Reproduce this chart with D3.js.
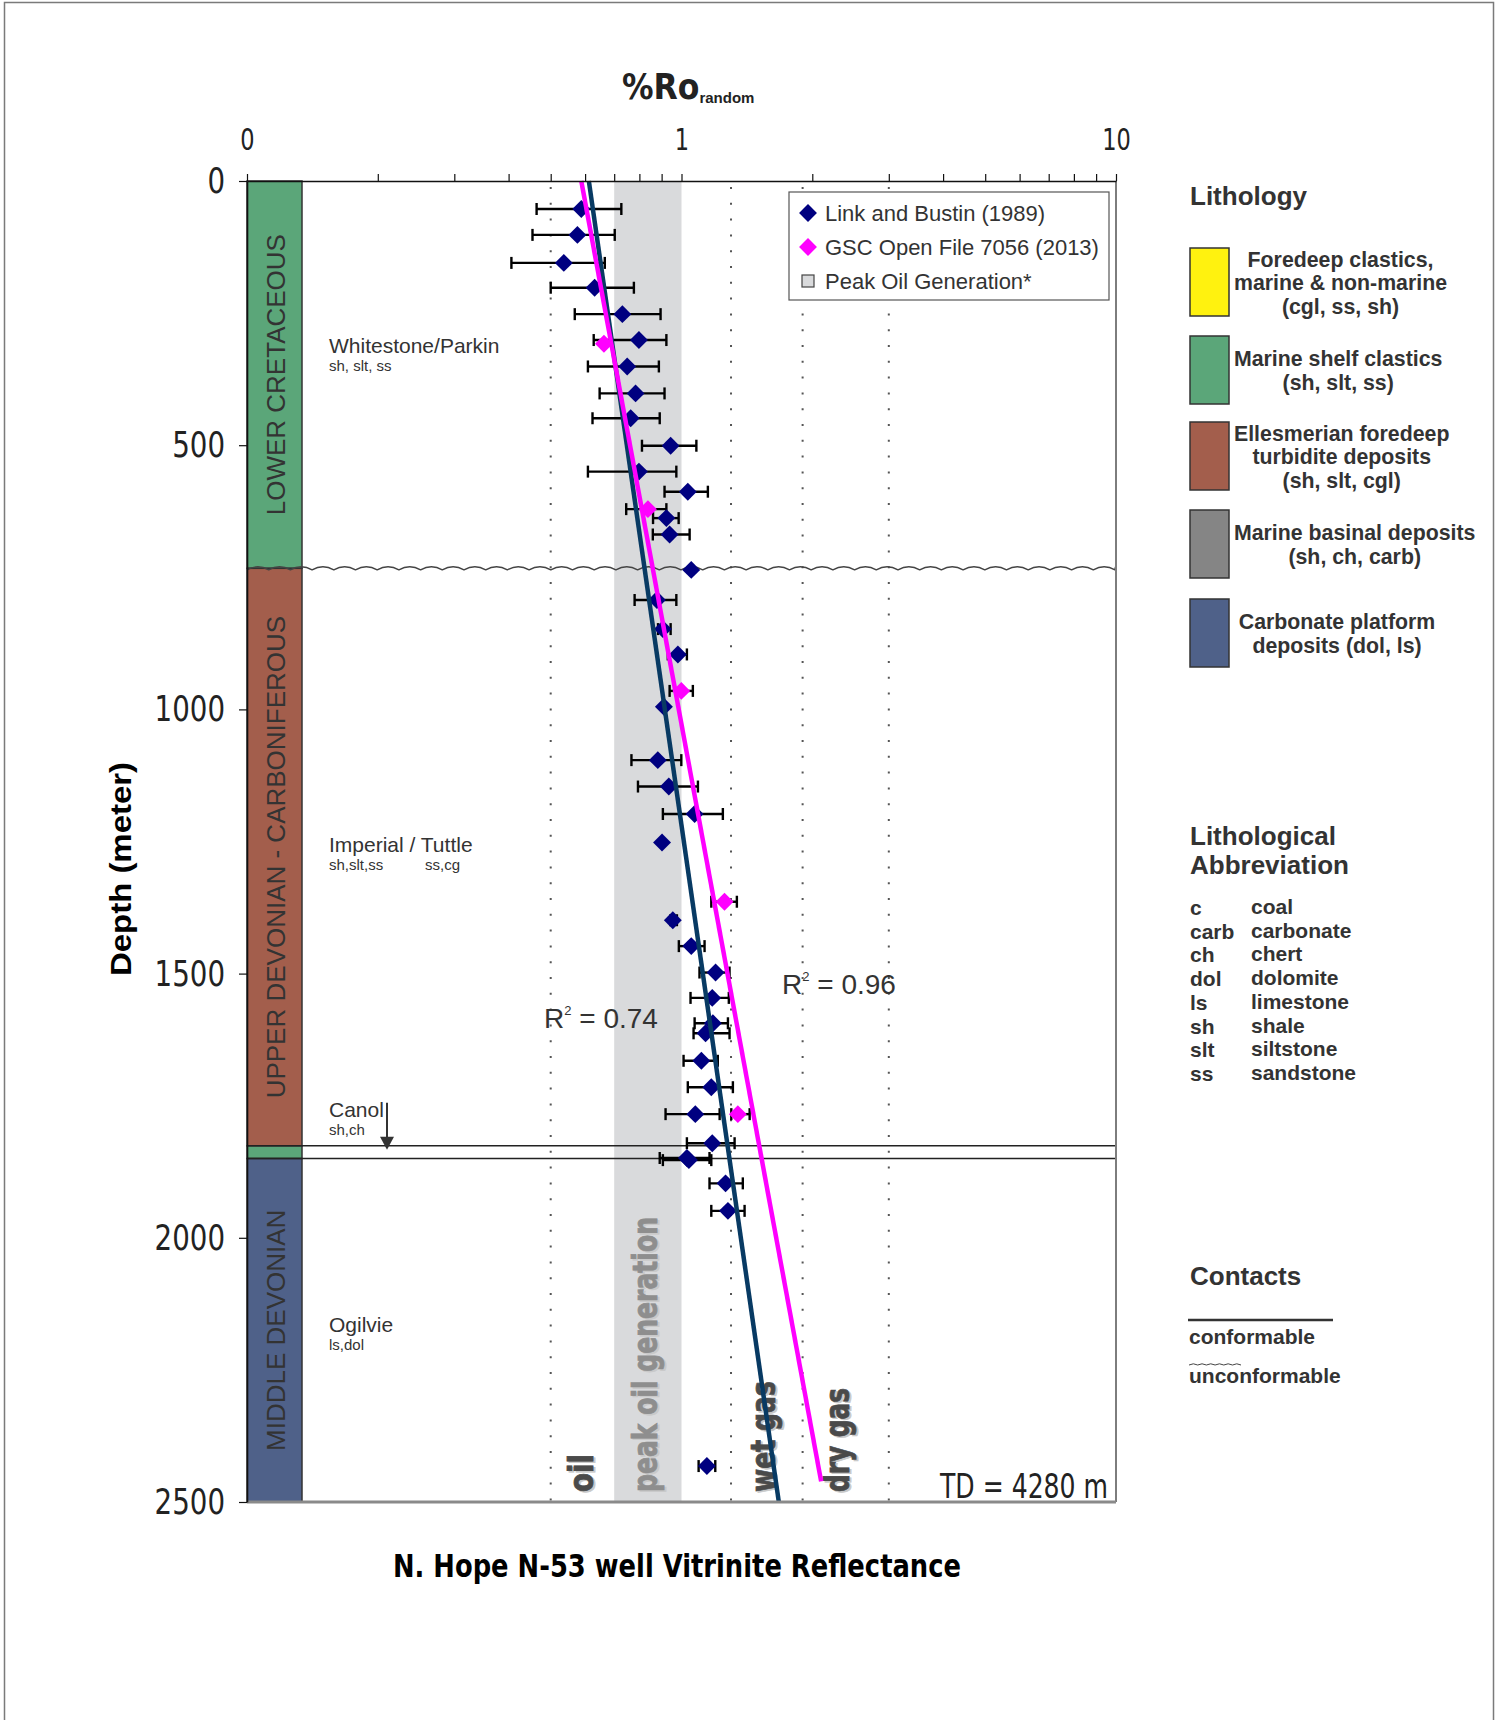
<!DOCTYPE html>
<html>
<head>
<meta charset="utf-8">
<script src="https://cdn.jsdelivr.net/npm/d3@7"></script>
<style>
  body { margin: 0; background: #fff; }
  svg { display: block; }
  text { font-family: "Liberation Sans", Arial, Helvetica, sans-serif; }
  .narrow { font-family: "Liberation Sans Narrow", "Arial Narrow", "DejaVu Sans Condensed", sans-serif; font-stretch: condensed; }
</style>
</head>
<body>
<svg id="chart" width="1501" height="1720"></svg>
<script>
// ---------------- data ----------------
const xTickValues = [0.1, 1, 10];
const xTickLabels = ["0", "1", "10"];
const yTickValues = [0, 500, 1000, 1500, 2000, 2500];

// Link and Bustin (1989): depth (m), mean %Ro, min and max of the range
const linkDepth = [53, 102, 155, 202, 252, 301, 351, 402, 449, 501, 550, 588, 638, 669, 736, 793, 848, 896, 995,
                   1096, 1146, 1198, 1252, 1399, 1448, 1498, 1546, 1594, 1613, 1665, 1715, 1766, 1821, 1849, 1853,
                   1897, 1949, 2432];
const linkRo = [0.588, 0.576, 0.536, 0.631, 0.731, 0.798, 0.750, 0.784, 0.764, 0.944, 0.798, 1.034, 0.923, 0.939, 1.053,
                0.878, 0.906, 0.981, 0.911, 0.882, 0.935, 1.072, 0.902, 0.955, 1.053, 1.198, 1.177, 1.181, 1.136,
                1.111, 1.171, 1.076, 1.177, 1.029, 1.040, 1.263, 1.279, 1.144];
const linkLo = [0.464, 0.454, 0.406, 0.500, 0.568, 0.628, 0.609, 0.648, 0.624, 0.811, 0.609, 0.914, 0.860, 0.859, null,
                0.780, 0.883, 0.930, null, 0.767, 0.794, 0.906, null, 0.943, 0.986, 1.100, 1.049, 1.072, 1.066,
                1.011, 1.034, 0.919, 1.029, 0.891, 0.906, 1.160, 1.171, 1.095];
const linkHi = [0.727, 0.702, 0.666, 0.777, 0.895, 0.923, 0.887, 0.914, 0.891, 1.082, 0.973, 1.150, 0.985, 1.044, null,
                0.973, 0.944, 1.029, null, 0.999, 1.091, 1.245, null, 0.976, 1.130, 1.290, 1.285, 1.279, 1.290,
                1.212, 1.313, 1.224, 1.325, 1.160, 1.171, 1.384, 1.397, 1.196];

// GSC Open File 7056 (2013)
const gscDepth = [308, 621, 965, 1364, 1766];
const gscRo = [0.663, 0.837, 0.999, 1.256, 1.348];
const gscLo = [null, 0.746, 0.939, 1.171, 1.302];
const gscHi = [null, 0.923, 1.062, 1.341, 1.435];

// regression trend lines (end points)
const linkTrendDepth = [0, 2500];
const linkTrendRo = [0.612, 1.675];
const gscTrendDepth = [0, 2461];
const gscTrendRo = [0.588, 2.096];
const r2Values = ["0.74", "0.96"];

// maturity
const peakOil = [0.7, 1.0];
const maturityLimits = [0.5, 1.3, 1.9, 3.0];
const maturityZones = ["oil", "peak oil generation", "wet gas", "dry gas"];

// stratigraphic column
const unitNames = ["LOWER CRETACEOUS", "UPPER DEVONIAN - CARBONIFEROUS", "", "MIDDLE DEVONIAN"];
const unitTop = [0, 733, 1826, 1850];
const unitBase = [733, 1826, 1850, 2500];
const unitLith = [1, 2, 1, 4];   // index into lithology legend
const unconformityDepth = [733];
const conformableDepth = [1826, 1850];

const formations = ["Whitestone/Parkin", "Imperial / Tuttle", "Canol", "Ogilvie"];
const formationLith = ["sh, slt, ss", "sh,slt,ss", "sh,ch", "ls,dol"];
const formationLith2 = ["", "ss,cg", "", ""];
const formationDepth = [325, 1269, 1771, 2178];
const totalDepthLabel = "TD = 4280 m";

// legends
const seriesNames = ["Link and Bustin (1989)", "GSC Open File 7056 (2013)", "Peak Oil Generation*"];
const lithColors = ["#fff20f", "#5ba679", "#a35e4c", "#858585", "#4f6189"];
const lithLabels = [
  ["Foredeep clastics,", "marine & non-marine", "(cgl, ss, sh)"],
  ["Marine shelf clastics", "(sh, slt, ss)"],
  ["Ellesmerian foredeep", "turbidite deposits", "(sh, slt, cgl)"],
  ["Marine basinal deposits", "(sh, ch, carb)"],
  ["Carbonate platform", "deposits (dol, ls)"]
];
const abbrCodes = ["c", "carb", "ch", "dol", "ls", "sh", "slt", "ss"];
const abbrNames = ["coal", "carbonate", "chert", "dolomite", "limestone", "shale", "siltstone", "sandstone"];
const contactNames = ["conformable", "unconformable"];

// ---------------- layout ----------------
const L = 247, R = 1116, T = 181, B = 1502;
const colL = 247, colR = 302;
const navy = "#000080", magenta = "#ff00ff", trendBlue = "#083a63", textGrey = "#333";

const svg = d3.select("#chart");
const x = d3.scaleLog().domain([0.1, 10]).range([L, R]);
const y = d3.scaleLinear().domain([0, 2500]).range([T, B]);

// outer frame
svg.append("rect").attr("x", 4.5).attr("y", 2.5).attr("width", 1489).attr("height", 1760)
  .attr("fill", "none").attr("stroke", "#7a7a7a").attr("stroke-width", 1.5);

// peak oil band
svg.append("rect")
  .attr("x", x(peakOil[0])).attr("y", T)
  .attr("width", x(peakOil[1]) - x(peakOil[0])).attr("height", B - T)
  .attr("fill", "#d9dadc");

// maturity limits (dotted)
svg.append("g").selectAll("line").data(maturityLimits).join("line")
  .attr("x1", d => x(d)).attr("x2", d => x(d)).attr("y1", T + 6).attr("y2", B)
  .attr("stroke", "#555").attr("stroke-width", 2).attr("stroke-dasharray", "2 13.8");

// maturity zone labels (rotated, embossed)
const zoneLayout = [
  { bx: 593, len: 38, fill: "#4a4a4a" },
  { bx: 657, len: 275, fill: "#8e8e8e" },
  { bx: 775, len: 111, fill: "#4a4a4a" },
  { bx: 849, len: 104, fill: "#4a4a4a" }
];
const zoneG = svg.append("g");
maturityZones.forEach((name, i) => {
  const z = zoneLayout[i];
  [["#c9c9c9", 2, 1.5], [z.fill, 0, 0]].forEach(([fill, dx, dy]) => {
    zoneG.append("text")
      .attr("class", "narrow")
      .attr("transform", `translate(${z.bx + dx},${1492 + dy}) rotate(-90)`)
      .attr("font-size", 34).attr("font-weight", "bold")
      .attr("textLength", z.len).attr("lengthAdjust", "spacingAndGlyphs")
      .attr("fill", fill).attr("stroke", fill).attr("stroke-width", 0.8).text(name);
  });
});

// stratigraphic column
const colG = svg.append("g");
unitTop.forEach((top, i) => {
  colG.append("rect")
    .attr("x", colL).attr("y", y(top)).attr("width", colR - colL).attr("height", y(unitBase[i]) - y(top))
    .attr("fill", lithColors[unitLith[i]]).attr("stroke", "#333").attr("stroke-width", 1.5);
});
unitNames.forEach((name, i) => {
  if (!name) return;
  const cy = (y(unitTop[i]) + y(unitBase[i])) / 2;
  colG.append("text")
    .attr("transform", `translate(${(colL + colR) / 2 + 10},${cy}) rotate(-90)`)
    .attr("text-anchor", "middle").attr("font-size", 26).attr("fill", textGrey)
    .text(name);
});

// contacts
function wavyPath(x0, x1, yy, period, amp) {
  let p = `M${x0},${yy}`;
  for (let xx = x0; xx < x1 - 0.01; xx += period) {
    const xe = Math.min(xx + period, x1);
    p += ` Q${(xx + xe) / 2},${yy - amp * 2} ${xe},${yy}`;
  }
  return p;
}
unconformityDepth.forEach(d => {
  svg.append("path").attr("d", wavyPath(L, R, y(d) + 1.5, 21.7, 3))
    .attr("fill", "none").attr("stroke", "#444").attr("stroke-width", 1.4);
});
svg.append("g").selectAll("line").data(conformableDepth).join("line")
  .attr("x1", L).attr("x2", R).attr("y1", d => y(d)).attr("y2", d => y(d))
  .attr("stroke", "#222").attr("stroke-width", 1.5);

// formation names
const fmG = svg.append("g").attr("fill", textGrey);
formations.forEach((f, i) => {
  const yy = y(formationDepth[i]);
  fmG.append("text").attr("x", 329).attr("y", yy).attr("font-size", 21).text(f);
  fmG.append("text").attr("x", 329).attr("y", yy + 18).attr("font-size", 15).text(formationLith[i]);
  if (formationLith2[i]) fmG.append("text").attr("x", 425).attr("y", yy + 18).attr("font-size", 15).text(formationLith2[i]);
});
// Canol pointer
const canolY = y(formationDepth[2]);
svg.append("line").attr("x1", 387).attr("x2", 387).attr("y1", canolY - 14).attr("y2", canolY + 22)
  .attr("stroke", "#333").attr("stroke-width", 2);
svg.append("path").attr("d", `M380,${canolY + 20} L394,${canolY + 20} L387,${canolY + 33} Z`).attr("fill", "#333");

// error bars
function errorBars(depth, lo, hi) {
  const g = svg.append("g").attr("stroke", "#000").attr("stroke-width", 2.4);
  depth.forEach((d, i) => {
    if (lo[i] == null) return;
    const yy = y(d);
    g.append("line").attr("x1", x(lo[i])).attr("x2", x(hi[i])).attr("y1", yy).attr("y2", yy);
    [lo[i], hi[i]].forEach(v => g.append("line").attr("x1", x(v)).attr("x2", x(v)).attr("y1", yy - 6).attr("y2", yy + 6));
  });
}
errorBars(linkDepth, linkLo, linkHi);
errorBars(gscDepth, gscLo, gscHi);

// markers
const diamond = d3.symbol().type(d3.symbolSquare).size(160);
function markers(depth, ro, color) {
  svg.append("g").selectAll("path").data(depth).join("path")
    .attr("d", diamond)
    .attr("transform", (d, i) => `translate(${x(ro[i])},${y(d)}) rotate(45)`)
    .attr("fill", color);
}
markers(linkDepth, linkRo, navy);
markers(gscDepth, gscRo, magenta);

// trend lines
const trend = d3.line().x(d => x(d[1])).y(d => y(d[0]));
svg.append("path").attr("d", trend(linkTrendDepth.map((d, i) => [d, linkTrendRo[i]])))
  .attr("fill", "none").attr("stroke", trendBlue).attr("stroke-width", 4.5);
svg.append("path").attr("d", trend(gscTrendDepth.map((d, i) => [d, gscTrendRo[i]])))
  .attr("fill", "none").attr("stroke", magenta).attr("stroke-width", 4.5);

// R² labels
[[544, 1028, r2Values[0]], [782, 994, r2Values[1]]].forEach(([tx, ty, v]) => {
  const t = svg.append("text").attr("x", tx).attr("y", ty).attr("font-size", 28).attr("fill", textGrey);
  t.append("tspan").text("R");
  t.append("tspan").attr("font-size", 13).attr("dy", -13).text("2");
  t.append("tspan").attr("dy", 13).text(" = " + v);
});

// total depth
svg.append("text").attr("class", "narrow").attr("x", 1108).attr("y", 1498)
  .attr("text-anchor", "end").attr("font-size", 33).attr("fill", "#222")
  .attr("textLength", 168).attr("lengthAdjust", "spacingAndGlyphs").text(totalDepthLabel);

// frame: right and bottom
svg.append("line").attr("x1", R).attr("x2", R).attr("y1", T).attr("y2", B).attr("stroke", "#7d7d7d").attr("stroke-width", 2);
svg.append("line").attr("x1", L).attr("x2", R).attr("y1", B).attr("y2", B).attr("stroke", "#8a8a8a").attr("stroke-width", 3);

// axes
const minorTicks = [];
[0.1, 1].forEach(dec => { for (let k = 1; k < 10; k++) minorTicks.push(+(k * dec).toFixed(3)); });
minorTicks.push(10);
const topAxis = svg.append("g").attr("transform", `translate(0,${T})`)
  .call(d3.axisTop(x).tickValues(minorTicks).tickSize(7).tickSizeOuter(0).tickPadding(24)
    .tickFormat(v => { const i = xTickValues.findIndex(t => Math.abs(t - v) < 1e-9); return i >= 0 ? xTickLabels[i] : ""; }));
topAxis.select(".domain").attr("stroke", "#111").attr("stroke-width", 1.6);
topAxis.selectAll(".tick line").attr("stroke", "#111").attr("stroke-width", 1.2);
topAxis.selectAll("text").attr("class", "narrow").attr("font-size", 30).attr("fill", "#222")
  .each(function () { const n = this.textContent.length; if (n) d3.select(this).attr("textLength", 14.3 * n).attr("lengthAdjust", "spacingAndGlyphs"); });

const leftAxis = svg.append("g").attr("transform", `translate(${L},0)`)
  .call(d3.axisLeft(y).tickValues(yTickValues).tickFormat(d3.format("d")).tickSize(8).tickSizeOuter(0).tickPadding(14));
leftAxis.select(".domain").attr("stroke", "#111").attr("stroke-width", 1.6);
leftAxis.selectAll(".tick line").attr("stroke", "#111").attr("stroke-width", 1.2);
leftAxis.selectAll("text").attr("class", "narrow").attr("font-size", 36).attr("fill", "#222")
  .each(function () { const n = this.textContent.length; d3.select(this).attr("textLength", 17.6 * n).attr("lengthAdjust", "spacingAndGlyphs"); });

// axis titles
const xt = svg.append("text").attr("x", 622).attr("y", 99).attr("font-weight", "bold").attr("fill", "#222");
xt.append("tspan").attr("class", "narrow").attr("font-size", 35).text("%Ro");
xt.append("tspan").attr("font-size", 15).attr("dy", 4).text("random");

svg.append("text").attr("transform", "translate(131,869) rotate(-90)")
  .attr("text-anchor", "middle").attr("font-size", 30).attr("font-weight", "bold").attr("fill", "#000")
  .attr("textLength", 214).attr("lengthAdjust", "spacingAndGlyphs").text("Depth (meter)");

svg.append("text").attr("class", "narrow").attr("x", 677).attr("y", 1577)
  .attr("text-anchor", "middle").attr("font-size", 32).attr("font-weight", "bold").attr("fill", "#000")
  .attr("textLength", 568).attr("lengthAdjust", "spacingAndGlyphs")
  .text("N. Hope N-53 well Vitrinite Reflectance");

// series legend
const lg = svg.append("g");
lg.append("rect").attr("x", 789).attr("y", 192).attr("width", 320).attr("height", 108)
  .attr("fill", "#fff").attr("stroke", "#555").attr("stroke-width", 1.2);
[213, 247, 281].forEach((cy, i) => {
  if (i < 2) {
    lg.append("path").attr("d", diamond).attr("transform", `translate(808,${cy}) rotate(45)`)
      .attr("fill", i === 0 ? navy : magenta);
  } else {
    lg.append("rect").attr("x", 802).attr("y", cy - 6).attr("width", 12).attr("height", 12)
      .attr("fill", "#d9dadc").attr("stroke", "#444").attr("stroke-width", 1.2);
  }
  lg.append("text").attr("x", 825).attr("y", cy + 8).attr("font-size", 22).attr("fill", textGrey).text(seriesNames[i]);
});

// lithology legend
const rg = svg.append("g").attr("fill", textGrey);
rg.append("text").attr("x", 1190).attr("y", 205).attr("font-size", 26).attr("font-weight", "bold").text("Lithology");
const boxTops = [248, 336, 422, 510, 599];
lithLabels.forEach((lines, i) => {
  const top = boxTops[i];
  rg.append("rect").attr("x", 1190).attr("y", top).attr("width", 39).attr("height", 68)
    .attr("fill", lithColors[i]).attr("stroke", "#333").attr("stroke-width", 1.5);
  const first = top + 34 - (lines.length - 1) * 23.5 / 2 + 8;
  const tg = rg.append("g");
  const texts = lines.map((s, k) => tg.append("text").attr("y", first + k * 23.5)
    .attr("font-size", 21.3).attr("font-weight", "bold").attr("text-anchor", "middle").text(s));
  const w = d3.max(texts, t => t.node().getComputedTextLength());
  const cx = Math.max(1337, 1234 + w / 2);
  texts.forEach(t => t.attr("x", cx));
});

// abbreviations
rg.append("text").attr("x", 1190).attr("y", 845).attr("font-size", 26).attr("font-weight", "bold").text("Lithological");
rg.append("text").attr("x", 1190).attr("y", 874).attr("font-size", 26).attr("font-weight", "bold").text("Abbreviation");
abbrCodes.forEach((c, i) => {
  const yy = 914 + i * 23.7;
  rg.append("text").attr("x", 1190).attr("y", yy + 1).attr("font-size", 21).attr("font-weight", "bold").text(c);
  rg.append("text").attr("x", 1251).attr("y", yy).attr("font-size", 21).attr("font-weight", "bold").text(abbrNames[i]);
});

// contacts legend
rg.append("text").attr("x", 1190).attr("y", 1285).attr("font-size", 26).attr("font-weight", "bold").text("Contacts");
svg.append("line").attr("x1", 1188).attr("x2", 1333).attr("y1", 1320).attr("y2", 1320).attr("stroke", "#333").attr("stroke-width", 2.7);
rg.append("text").attr("x", 1189).attr("y", 1344).attr("font-size", 21).attr("font-weight", "bold").text(contactNames[0]);
svg.append("path").attr("d", wavyPath(1189, 1241, 1365, 8.7, 1.2)).attr("fill", "none").attr("stroke", "#444").attr("stroke-width", 1);
rg.append("text").attr("x", 1189).attr("y", 1383).attr("font-size", 21).attr("font-weight", "bold").text(contactNames[1]);
</script>
</body>
</html>
